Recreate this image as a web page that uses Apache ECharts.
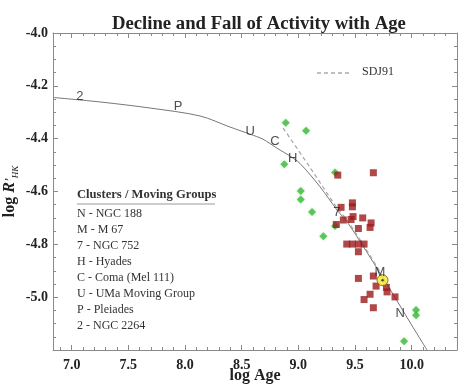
<!DOCTYPE html>
<html><head><meta charset="utf-8">
<script src="https://cdn.jsdelivr.net/npm/echarts@6/dist/echarts.min.js"></script>
<style>html,body{margin:0;padding:0;background:#fff}#c{width:465px;height:390px}</style>
</head><body><div id="c"></div>
<script>
// ---- data ----
const xTickLabels = [7.0, 7.5, 8.0, 8.5, 9.0, 9.5, 10.0];
const yTickLabels = [-4.0, -4.2, -4.4, -4.6, -4.8, -5.0];

const fitCurve = [[6.835,-4.244],[7.25,-4.261],[7.691,-4.284],[8.132,-4.314],[8.397,-4.356],[8.574,-4.383],[8.688,-4.402],[8.812,-4.436],[8.927,-4.466],[9.015,-4.494],[9.191,-4.582],[9.341,-4.670],[9.439,-4.720],[9.721,-4.909],[10.012,-5.114],[10.135,-5.2]];
const sdj91Curve = [[8.866,-4.360],[9.10,-4.507],[9.33,-4.655],[9.44,-4.714],[9.72,-4.903]];

const greenStars = [[8.889,-4.340],[9.068,-4.370],[8.876,-4.497],[9.324,-4.528],[9.021,-4.598],[9.021,-4.630],[9.121,-4.678],[9.324,-4.731],[9.221,-4.769],[10.039,-5.049],[10.039,-5.068],[9.933,-5.167]];
const redStars = [[9.348,-4.538],[9.662,-4.529],[9.377,-4.660],[9.477,-4.643],[9.477,-4.658],[9.397,-4.708],[9.465,-4.706],[9.483,-4.695],[9.568,-4.700],[9.642,-4.719],[9.633,-4.736],[9.530,-4.740],[9.335,-4.725],[9.427,-4.799],[9.477,-4.799],[9.530,-4.799],[9.580,-4.799],[9.530,-4.828],[9.662,-4.920],[9.530,-4.929],[9.686,-4.958],[9.777,-4.963],[9.783,-4.980],[9.853,-4.999],[9.633,-4.989],[9.580,-5.009],[9.662,-5.040]];
const sunPoint = [[9.743,-4.936]];

const clusterCodes = ['2','P','U','C','H','7','M','N'];
const clusterX = [7.073, 7.938, 8.574, 8.794, 8.951, 9.339, 9.719, 9.898];
const clusterY = [-4.239, -4.277, -4.374, -4.412, -4.475, -4.681, -4.908, -5.062];

const keyTitle = 'Clusters / Moving Groups';
const keyItems = ['N - NGC 188','M - M 67','7 - NGC 752','H - Hyades','C - Coma (Mel 111)','U - UMa Moving Group','P - Pleiades','2 - NGC 2264'];
const dashedKeyName = 'SDJ91';

// ---- chart ----
const SERIF = '"Liberation Serif","DejaVu Serif",serif';
const SANS = '"Liberation Sans",Arial,sans-serif';
const axisColor = '#8a8a8a';
const chart = echarts.init(document.getElementById('c'), null, {renderer:'canvas'});

function isIn(list, v){ return list.some(t => Math.abs(t - v) < 1e-6); }

const baseX = {
  type:'value', min:6.835, max:10.4, splitNumber:7,
  axisLine:{show:true, lineStyle:{color:axisColor, width:1}},
  axisTick:{show:true, inside:true, length:5, lineStyle:{color:axisColor}},
  minorTick:{show:true, splitNumber:5, length:3, lineStyle:{color:axisColor}},
  splitLine:{show:false}
};
const baseY = {
  type:'value', min:-5.2, max:-4.0, interval:0.2,
  axisLine:{show:true, lineStyle:{color:axisColor, width:1}},
  axisTick:{show:true, inside:true, length:5, lineStyle:{color:axisColor}},
  minorTick:{show:true, splitNumber:4, length:3, lineStyle:{color:axisColor}},
  splitLine:{show:false}
};

const labelData = clusterCodes.map((c,i) => [clusterX[i], clusterY[i], c]);

const graphics = [
  {type:'text', left:77, top:188, style:{text:keyTitle, font:'bold 12.6px '+SERIF, fill:'#333'}},
  {type:'line', shape:{x1:77, y1:204, x2:215, y2:204}, style:{stroke:'#999', lineWidth:1.2}},
  {type:'line', shape:{x1:317, y1:73, x2:350, y2:73}, style:{stroke:'#aaa', lineWidth:1.3, lineDash:[4,3]}},
  {type:'text', left:362, top:66, style:{text:dashedKeyName, font:'12px '+SERIF, fill:'#333'}}
];
keyItems.forEach((t,i) => {
  graphics.push({type:'text', left:77, top:208 + i*15.95, style:{text:t, font:'12px '+SERIF, fill:'#333'}});
});

chart.setOption({
  backgroundColor:'#fff',
  animation:false,
  title:{
    text:'Decline and Fall of Activity with Age',
    left:107, top:10,
    textStyle:{fontFamily:SERIF, fontSize:18.7, fontWeight:'bold', color:'#222'}
  },
  grid:{left:53, right:8, top:33, bottom:40, containLabel:false, outerBoundsMode:'none'},
  xAxis:[
    Object.assign({}, baseX, {
      position:'bottom',
      name:'log Age', nameLocation:'middle', nameGap:18, nameMoveOverlap:false,
      nameTextStyle:{fontFamily:SERIF, fontSize:16, fontWeight:'bold', color:'#222'},
      axisLabel:{show:true, margin:8, fontFamily:SERIF, fontSize:14, fontWeight:'bold', color:'#222',
        formatter:v => isIn(xTickLabels, v) ? v.toFixed(1) : ''}
    }),
    Object.assign({}, baseX, {position:'top', axisLabel:{show:false}})
  ],
  yAxis:[
    Object.assign({}, baseY, {
      position:'left',
      name:'{a|log }{b|R}{c|\u2019}{d|HK}', nameLocation:'middle', nameGap:33, nameRotate:90, nameMoveOverlap:false,
      nameTextStyle:{color:'#222', rich:{
        a:{fontFamily:SERIF, fontSize:16, fontWeight:'bold', color:'#222', lineHeight:20},
        b:{fontFamily:SERIF, fontSize:16, fontWeight:'bold', fontStyle:'italic', color:'#222', lineHeight:20},
        c:{fontFamily:SERIF, fontSize:12, fontStyle:'italic', color:'#222', lineHeight:20},
        d:{fontFamily:SERIF, fontSize:9, fontStyle:'italic', color:'#222', verticalAlign:'bottom', lineHeight:9}
      }},
      axisLabel:{show:true, margin:5, fontFamily:SERIF, fontSize:14, fontWeight:'bold', color:'#222',
        formatter:v => isIn(yTickLabels, v) ? v.toFixed(1) : ''}
    }),
    Object.assign({}, baseY, {position:'right', axisLabel:{show:false}})
  ],
  graphic:graphics,
  series:[
    {type:'line', name:'fit', data:fitCurve, smooth:0.3, symbol:'none',
      lineStyle:{color:'#777', width:1}, z:2},
    {type:'line', name:'SDJ91', data:sdj91Curve, smooth:0.3, symbol:'none',
      lineStyle:{color:'#aaa', width:1.3, type:[4,3]}, z:2},
    {type:'scatter', name:'green', data:greenStars, symbol:'diamond', symbolSize:8,
      itemStyle:{color:'#3cb93c', shadowColor:'rgba(60,185,60,0.35)', shadowBlur:3}, z:3},
    {type:'scatter', name:'red', data:redStars, symbol:'rect', symbolSize:7,
      itemStyle:{color:'#9b1a1a'}, z:4},
    {type:'scatter', name:'sun', data:sunPoint, symbol:'circle', symbolSize:11,
      itemStyle:{color:'#f2e634', borderColor:'#6b5d00', borderWidth:1}, z:5},
    {type:'scatter', name:'sundot', data:sunPoint, symbol:'circle', symbolSize:2.5,
      itemStyle:{color:'#222'}, z:6},
    {type:'scatter', name:'codes', data:labelData, symbol:'circle', symbolSize:1,
      itemStyle:{color:'rgba(0,0,0,0)'}, z:7,
      label:{show:true, position:'inside', formatter:p => p.data[2],
        fontFamily:SANS, fontSize:13, color:'#222'}}
  ]
});
</script></body></html>
